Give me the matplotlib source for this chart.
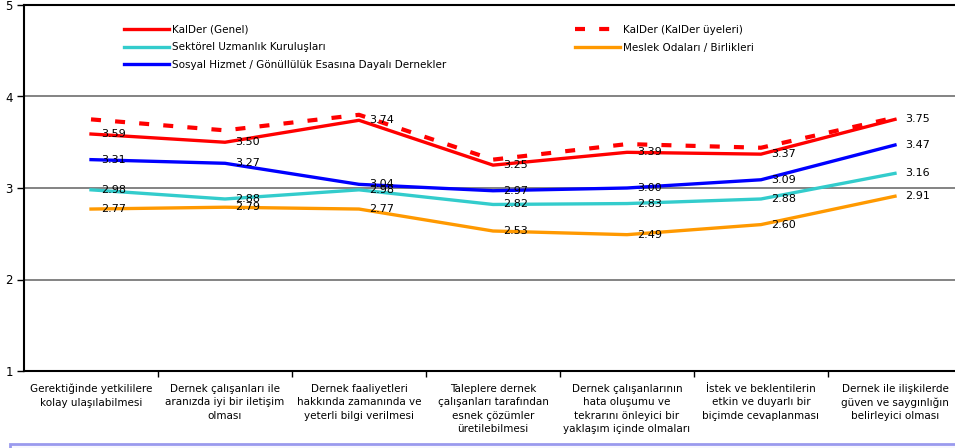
import matplotlib
matplotlib.use("Agg")
import matplotlib.pyplot as plt
from matplotlib.patches import Rectangle
from matplotlib.lines import Line2D

categories = [
    "Gerektiğinde yetkililere\nkolay ulaşılabilmesi",
    "Dernek çalışanları ile\naranızda iyi bir iletişim\nolması",
    "Dernek faaliyetleri\nhakkında zamanında ve\nyeterli bilgi verilmesi",
    "Taleplere dernek\nçalışanları tarafından\nesnek çözümler\nüretilebilmesi",
    "Dernek çalışanlarının\nhata oluşumu ve\ntekrarını önleyici bir\nyaklaşım içinde olmaları",
    "İstek ve beklentilerin\netkin ve duyarlı bir\nbiçimde cevaplanması",
    "Dernek ile ilişkilerde\ngüven ve saygınlığın\nbelirleyici olması",
]
kalder_genel = [3.59, 3.50, 3.74, 3.25, 3.39, 3.37, 3.75]
kalder_uyeleri = [3.75, 3.63, 3.80, 3.31, 3.48, 3.44, 3.77]
sektorel = [2.98, 2.88, 2.98, 2.82, 2.83, 2.88, 3.16]
sosyal = [3.31, 3.27, 3.04, 2.97, 3.00, 3.09, 3.47]
meslek = [2.77, 2.79, 2.77, 2.53, 2.49, 2.60, 2.91]
yticks = [1, 2, 3, 4, 5]

W, H = 955, 448
fig = plt.figure(figsize=(W / 100, H / 100), dpi=100)
plt.rcParams['font.family'] = ['DejaVu Sans']

# bottom lavender frame
fig.patches.append(Rectangle((10 / W, -0.1), 2, (448 - 444) / H + 0.1,
                             transform=fig.transFigure, facecolor='#f7f7ff',
                             edgecolor='#9a9aee', lw=2, zorder=0))

ax = fig.add_axes([24 / W, (H - 371) / H, 938 / W, (371 - 5) / H])
x = list(range(len(categories)))

lw = 2.4
ax.plot(x, kalder_genel, color='#ff0000', lw=lw, zorder=5)
ax.plot(x, kalder_uyeleri, color='#ff0000', lw=lw + 0.6, dashes=(2.4, 3.4), zorder=4)
ax.plot(x, sektorel, color='#33cccc', lw=lw, zorder=3)
ax.plot(x, sosyal, color='#0000ff', lw=lw, zorder=3)
ax.plot(x, meslek, color='#ff9900', lw=lw, zorder=3)

for series in (kalder_genel, sektorel, sosyal, meslek):
    for xi, v in zip(x, series):
        ax.annotate(f"{v:.2f}", (xi, v), xytext=(7, 0), textcoords='offset points',
                    ha='left', va='center', fontsize=8, color='black', zorder=6)

ax.set_xlim(-0.5, len(categories) - 0.5)
ax.set_ylim(1, 5)
ax.set_yticks(yticks)
ax.set_yticklabels([str(t) for t in yticks], fontsize=8.5)
ax.tick_params(axis='y', length=5, width=1, pad=3)
ax.set_xticks(x)
ax.set_xticklabels(categories, fontsize=7.5, linespacing=1.45)
ax.tick_params(axis='x', which='major', length=0, pad=9)
ax.set_xticks([i + 0.5 for i in range(len(categories))], minor=True)
ax.tick_params(axis='x', which='minor', length=4, width=1)

for y in (2, 3, 4):
    ax.axhline(y, color='#6e6e6e', lw=1.2, zorder=1)
for s in ('left', 'bottom', 'top'):
    ax.spines[s].set_color('black')
    ax.spines[s].set_linewidth(1.5)
ax.spines['right'].set_visible(False)

h1 = [Line2D([], [], color='#ff0000', lw=lw),
      Line2D([], [], color='#33cccc', lw=lw),
      Line2D([], [], color='#0000ff', lw=lw)]
l1 = ["KalDer (Genel)", "Sektörel Uzmanlık Kuruluşları",
      "Sosyal Hizmet / Gönüllülük Esasına Dayalı Dernekler"]
h2 = [Line2D([], [], color='#ff0000', lw=lw + 0.6, dashes=(2.4, 3.4)),
      Line2D([], [], color='#ff9900', lw=lw)]
l2 = ["KalDer (KalDer üyeleri)", "Meslek Odaları / Birlikleri"]

for hs, ls, xa in ((h1, l1, 124), (h2, l2, 575)):
    fig.legend(hs, ls, loc='upper left', bbox_to_anchor=(xa / W, 1 - 25 / H),
               frameon=False, fontsize=7.5, handlelength=4.3, handletextpad=0.3,
               borderpad=0, borderaxespad=0, labelspacing=0.72)

fig.savefig("out.png", dpi=100)
